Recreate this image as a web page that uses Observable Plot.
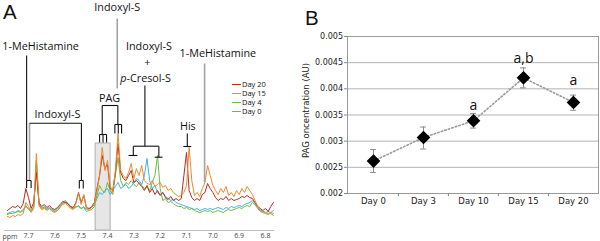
<!DOCTYPE html>
<html><head><meta charset="utf-8">
<script src="https://cdn.jsdelivr.net/npm/d3@7"></script>
<script src="https://cdn.jsdelivr.net/npm/@observablehq/plot@0.6"></script>
<style>
body{margin:0;background:#fff;}
#wrap{position:relative;width:600px;height:241px;overflow:hidden;font-family:"Open Sans",sans-serif;color:#111;}
#pa,#pb{position:absolute;top:0;}
#pa{left:0}#pb{left:300px}
.plab{position:absolute;font-size:20.5px;line-height:normal;font-family:"Liberation Sans",Arial,sans-serif;}
#legend{position:absolute;left:232px;top:80px;font-size:7.5px;line-height:9px;font-family:"Open Sans",sans-serif;}
#legend div{display:flex;align-items:center;white-space:nowrap;}
#legend span.sw{display:inline-block;width:9px;height:1px;margin-right:1px;}
</style></head><body>
<div id="wrap">
<div id="pa"></div><div id="pb"></div>
<div class="plab" style="left:3px;top:0px">A</div>
<div class="plab" style="left:305px;top:6px">B</div>
<div id="legend"></div>
</div>
<script>
// ---------- Panel A: 1H NMR spectra (arbitrary intensity) ----------
const ppm = [7.78,7.77,7.76,7.75,7.74,7.73,7.72,7.71,7.70,7.69,
 7.68,7.67,7.66,7.65,7.64,7.63,7.62,7.61,7.60,7.59,
 7.58,7.57,7.56,7.55,7.54,7.53,7.52,7.51,7.50,7.49,
 7.48,7.47,7.46,7.45,7.44,7.43,7.42,7.41,7.40,7.39,
 7.38,7.37,7.36,7.35,7.34,7.33,7.32,7.31,7.30,7.29,
 7.28,7.27,7.26,7.25,7.24,7.23,7.22,7.21,7.20,7.19,
 7.18,7.17,7.16,7.15,7.14,7.13,7.12,7.11,7.10,7.09,
 7.08,7.07,7.06,7.05,7.04,7.03,7.02,7.01,7.00,6.99,
 6.98,6.97,6.96,6.95,6.94,6.93,6.92,6.91,6.90,6.89,
 6.88,6.87,6.86,6.85,6.84,6.83,6.82,6.81,6.80,6.79,
 6.78,6.77];
const day0 = [17,18,19,18,20,19,21,24,22,20,
 24,66,26,22,24,22,23,21,20,22,
 24,27,29,26,24,22,23,25,22,24,
 21,22,23,26,32,38,36,40,42,36,
 40,44,48,42,44,46,42,44,48,52,
 50,46,55,72,50,42,45,38,36,38,
 34,32,30,31,28,27,26,25,24,23,
 22,21,22,20,21,22,21,22,21,22,
 23,22,21,23,22,24,23,24,25,24,
 26,27,28,30,27,23,20,19,18,19,
 18,20];
const day4 = [16,17,17,18,19,18,20,25,21,19,
 24,70,27,22,23,21,22,20,19,20,
 23,28,30,27,23,22,24,24,22,23,
 19,20,21,24,35,45,40,38,48,40,
 36,55,73,50,44,48,46,50,46,44,
 48,45,42,44,40,48,55,75,42,30,
 32,28,29,27,25,24,24,22,23,21,
 22,20,19,18,19,20,19,20,18,19,
 20,19,18,20,21,20,21,22,23,22,
 24,25,24,28,26,22,19,18,17,16,
 17,15];
const day15 = [14,13,15,14,16,15,17,28,24,18,
 22,77,25,21,22,20,22,19,18,20,
 24,26,27,25,22,21,27,37,26,36,
 22,21,23,27,40,55,83,60,70,45,
 38,60,97,60,55,52,58,67,52,62,
 55,65,50,47,46,50,44,46,48,43,
 45,40,42,38,36,34,35,38,45,83,
 50,35,38,34,42,48,65,55,45,40,
 36,42,38,44,35,38,34,40,36,42,
 38,44,40,36,30,24,21,19,18,17,
 18,17];
const day20 = [20,22,24,23,25,22,27,42,33,22,
 28,58,28,24,26,23,25,22,21,23,
 26,29,28,27,24,23,28,38,28,35,
 23,22,24,28,42,55,75,62,66,42,
 40,58,87,58,52,50,55,60,48,50,
 47,44,40,45,38,42,36,40,35,38,
 33,31,34,30,32,30,32,55,78,40,
 33,30,32,30,36,38,47,42,38,33,
 30,32,31,34,30,32,30,31,32,34,
 33,35,33,32,28,24,22,20,22,19,
 24,28];
const seriesNames = ["Day 20","Day 15","Day 4","Day 0"];
const seriesColors = ["#b8281f","#ec8a2b","#6dbb48","#3fb2e4"];
const drawOrder = ["Day 0","Day 4","Day 20","Day 15"];
const seriesValues = {"Day 0":day0,"Day 4":day4,"Day 15":day15,"Day 20":day20};
const ppmTicks = [7.7,7.6,7.5,7.4,7.3,7.2,7.1,7.0,6.9,6.8];

// annotation text: label, ppm, level
const annLabels = ["1-MeHistamine","Indoxyl-S","Indoxyl-S","PAG","Indoxyl-S","+","His","1-MeHistamine"];
const annX = [7.654,7.590,7.363,7.392,7.243,7.249,7.095,6.981];
const annY = [184,116,222.5,131.5,184,168,103.5,176.5];
const italicPart = {label:"p", rest:"-Cresol-S", x:7.328, y:151.5};
// annotation segments (ppm1, level1, ppm2, level2)
const blackSegs = [
 [7.707,175,7.707,50],[7.707,50,7.690,50],[7.707,50,7.707,42.5],[7.690,50,7.690,42.5],
 [7.696,107.3,7.499,107.3],[7.499,107.3,7.499,50],[7.507,50,7.492,50],[7.507,50,7.507,42],[7.492,50,7.492,42],
 [7.420,125,7.3607,125],[7.420,125,7.420,96],[7.3607,125,7.3607,106],
 [7.430,96,7.4036,96],[7.430,96,7.430,88],[7.417,96,7.417,88],[7.4036,96,7.4036,88],
 [7.372,106,7.3466,106],[7.372,106,7.372,97],[7.359,106,7.359,97],[7.3466,106,7.3466,97],
 [7.258,145,7.258,84.3],[7.302,84.3,7.205,84.3],[7.302,84.3,7.302,75],[7.320,75,7.286,75],
 [7.205,84.3,7.205,73.3],[7.221,73.3,7.191,73.3],
 [7.097,97,7.097,84],[7.112,84,7.082,84]
];
const graySegs = [
 [7.696,107.3,7.696,50],[7.363,212,7.363,142],[7.0314,167,7.0314,48.3]
];
const shadedRegion = [7.445,7.388,87];

const specData = [];
for (const s of drawOrder) ppm.forEach((p,i)=>specData.push({ppm:p, v:seriesValues[s][i], series:s}));
const seg = a => a.map(([x1,y1,x2,y2])=>({x1,y1,x2,y2}));
const annData = annLabels.map((t,i)=>({t, x:annX[i], y:annY[i]}));
const annFont = {fontSize:10.8, fontFamily:"Open Sans", fill:"#111"};

const plotA = Plot.plot({
  width:300, height:241, marginLeft:4, marginRight:26, marginTop:0, marginBottom:11,
  style:{background:"transparent", overflow:"visible", fontFamily:"Open Sans"},
  x:{domain:[7.791,6.766]},
  y:{domain:[0,230], axis:null},
  color:{domain:seriesNames, range:seriesColors},
  marks:[
    Plot.rect([shadedRegion],{x1:d=>d[0],x2:d=>d[1],y1:0,y2:d=>d[2],fill:"#e6e6e6",stroke:"#b0b0b0",strokeWidth:1}),
    Plot.line(specData,{x:"ppm",y:"v",z:"series",stroke:"series",strokeWidth:1}),
    Plot.link(seg(graySegs),{x1:"x1",y1:"y1",x2:"x2",y2:"y2",stroke:"#a3a3a3",strokeWidth:1.6}),
    Plot.link(seg(blackSegs),{x1:"x1",y1:"y1",x2:"x2",y2:"y2",stroke:"#111",strokeWidth:1.1}),
    Plot.text(annData,{x:"x",y:"y",text:"t",...annFont}),
    Plot.text([italicPart],{x:"x",y:"y",text:"label",textAnchor:"end",fontStyle:"italic",...annFont}),
    Plot.text([italicPart],{x:"x",y:"y",text:"rest",textAnchor:"start",...annFont}),
    Plot.ruleY([0],{stroke:"#bdbdbd"}),
    Plot.axisX({ticks:ppmTicks, tickFormat:d=>d.toFixed(1), tickSize:0, tickPadding:3, fontSize:7, fill:"#444", label:null}),
    Plot.text(["ppm"],{frameAnchor:"bottom-left", textAnchor:"middle", dx:5.5, dy:8, fontSize:7, fill:"#444"})
  ]
});
document.getElementById("pa").appendChild(plotA);

const leg = document.getElementById("legend");
seriesNames.forEach((n,i)=>{
  const d=document.createElement("div");
  d.innerHTML=`<span class="sw" style="background:${seriesColors[i]}"></span>${n}`;
  leg.appendChild(d);
});

// ---------- Panel B: PAG concentration ----------
const days = ["Day 0","Day 3","Day 10","Day 15","Day 20"];
const pagMean = [0.00262,0.00307,0.00339,0.00421,0.00374];
const pagLow  = [0.00240,0.00285,0.00325,0.00402,0.00359];
const pagHigh = [0.00284,0.00327,0.00353,0.00440,0.00388];
const sigLetters = ["","","a","a,b","a"];
const sigLevel = [null,null,0.00359,0.00450,0.00407];
const yTicks = [0.002,0.0025,0.003,0.0035,0.004,0.0045,0.005];

const pag = days.map((d,i)=>({day:d, mean:pagMean[i], lo:pagLow[i], hi:pagHigh[i], letter:sigLetters[i], ly:sigLevel[i]}));
const bw = (300-47-2)/days.length;

const plotB = Plot.plot({
  width:300, height:241, marginLeft:47, marginRight:2, marginTop:36, marginBottom:48,
  style:{background:"transparent", overflow:"visible", fontFamily:"DejaVu Sans"},
  x:{type:"band", domain:days, padding:0},
  y:{domain:[0.002,0.005]},
  marks:[
    Plot.ruleY(yTicks.slice(1,-1),{stroke:"#b4b4b4"}),
    Plot.frame({stroke:"#9a9a9a"}),
    Plot.axisY({ticks:yTicks, tickFormat:d=>String(+d.toFixed(4)), tickSize:3, tickPadding:1.5, fontSize:8, fill:"#222", stroke:"#888", label:null}),
    Plot.axisX({tickSize:0, tickPadding:4, fontSize:8.5, fill:"#222", label:null}),
    Plot.ruleX(days.slice(1),{x:d=>d, dx:-bw/2, y1:0.002, y2:0.00194, stroke:"#888"}),
    Plot.text(["PAG oncentration (AU)"],{frameAnchor:"left", textAnchor:"middle", lineAnchor:"middle", rotate:-90, dx:-41, dy:-4.5, fontSize:8.5, fill:"#222"}),
    Plot.line(pag,{x:"day",y:"mean",stroke:"#9a9a9a",strokeWidth:1.6,strokeDasharray:"1.5,2.2"}),
    Plot.ruleX(pag,{x:"day",y1:"lo",y2:"hi",stroke:"#8a8a8a",strokeWidth:1}),
    Plot.tickY(pag,{x:"day",y:"lo",stroke:"#8a8a8a",insetLeft:(bw-6)/2,insetRight:(bw-6)/2}),
    Plot.tickY(pag,{x:"day",y:"hi",stroke:"#8a8a8a",insetLeft:(bw-6)/2,insetRight:(bw-6)/2}),
    Plot.dot(pag,{x:"day",y:"mean",symbol:"diamond2",r:5.2,fill:"#000",stroke:"#000"}),
    Plot.text(pag.filter(d=>d.letter),{x:"day",y:"ly",text:"letter",lineAnchor:"bottom",fontSize:14,fontFamily:"Open Sans",fill:"#111"})
  ]
});
document.getElementById("pb").appendChild(plotB);
</script>
</body></html>
